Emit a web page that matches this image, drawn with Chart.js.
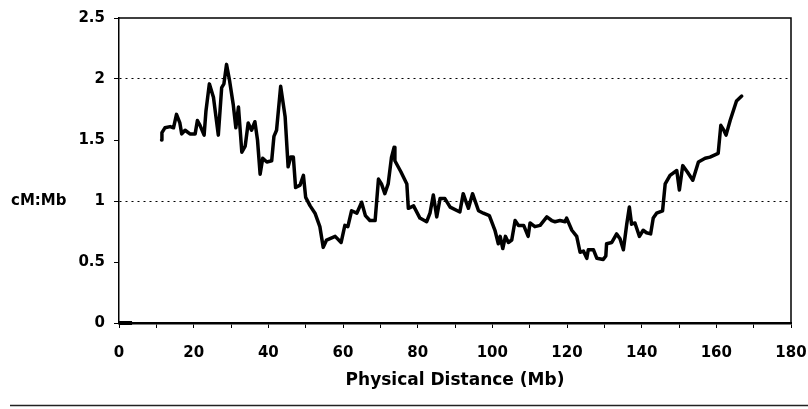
<!DOCTYPE html>
<html>
<head>
<meta charset="utf-8">
<script src="https://cdn.jsdelivr.net/npm/chart.js@4.4.0/dist/chart.umd.min.js"></script>
<style>
  html, body { margin: 0; padding: 0; background: #fff; }
  #wrap { position: relative; width: 808px; height: 409px; }
</style>
</head>
<body>
<div id="wrap"><canvas id="miGrafico" width="808" height="409"></canvas></div>
<script>
// position along the chromosome (Mb) and recombination rate (cM:Mb)
const distance = [
  11.4, 11.5, 12.3, 13.7, 14.6, 15.4, 16.3, 16.8, 17.7, 19.0, 20.4, 21.0, 21.7, 22.8, 23.3,
  24.2, 25.3, 26.6, 27.5, 28.1, 28.8, 29.6, 30.6, 31.3, 32.0, 32.9, 33.8, 34.6, 35.5, 36.4,
  37.1, 37.8, 38.5, 39.6, 40.9, 41.5, 42.2, 43.3, 44.5, 45.3, 46.0, 46.7, 47.3, 48.5, 49.4,
  50.0, 51.2, 52.5, 53.8, 54.7, 55.6, 57.9, 59.5, 60.5, 61.3, 62.3, 63.7, 65.0, 66.0, 67.2,
  68.6, 69.5, 70.3, 71.2, 72.1, 73.0, 73.7, 73.9, 75.5, 77.1, 77.5, 78.9, 80.6, 82.4, 83.3,
  84.2, 85.1, 86.0, 87.3, 88.7, 91.3, 92.2, 93.0, 93.6, 94.7, 96.3, 97.6, 99.2, 100.7, 101.6,
  102.1, 102.8, 103.5, 104.3, 105.2, 106.1, 107.0, 108.4, 109.6, 110.1, 111.4, 112.8, 114.6, 115.9, 116.8,
  118.1, 119.5, 119.9, 121.3, 122.6, 123.5, 124.4, 125.3, 125.7, 127.1, 128.0, 129.7, 130.4, 130.6, 132.0,
  133.3, 134.2, 135.1, 136.0, 136.7, 137.3, 138.2, 139.4, 140.4, 141.3, 142.4, 143.1, 144.0, 145.6, 146.3,
  147.6, 149.4, 150.1, 151.0, 152.2, 153.7, 155.2, 157.0, 158.3, 160.5, 161.2, 162.0, 162.6, 163.7, 165.4,
  166.8
];
const rate = [
  1.50, 1.56, 1.60, 1.61, 1.60, 1.71, 1.64, 1.55, 1.58, 1.55, 1.55, 1.66, 1.62, 1.54, 1.74,
  1.96, 1.85, 1.54, 1.93, 1.96, 2.12, 1.99, 1.79, 1.60, 1.77, 1.40, 1.45, 1.64, 1.58, 1.65,
  1.50, 1.22, 1.35, 1.32, 1.33, 1.53, 1.58, 1.94, 1.69, 1.28, 1.36, 1.36, 1.11, 1.13, 1.21,
  1.03, 0.96, 0.90, 0.79, 0.62, 0.68, 0.71, 0.66, 0.80, 0.79, 0.92, 0.90, 0.99, 0.88, 0.84,
  0.84, 1.18, 1.14, 1.06, 1.14, 1.36, 1.44, 1.33, 1.24, 1.14, 0.94, 0.96, 0.86, 0.83, 0.90,
  1.05, 0.87, 1.02, 1.02, 0.95, 0.91, 1.06, 0.99, 0.94, 1.06, 0.92, 0.90, 0.88, 0.76, 0.65,
  0.71, 0.61, 0.71, 0.66, 0.68, 0.84, 0.80, 0.80, 0.71, 0.82, 0.79, 0.80, 0.87, 0.84, 0.83,
  0.84, 0.83, 0.86, 0.76, 0.71, 0.58, 0.59, 0.53, 0.60, 0.60, 0.53, 0.52, 0.55, 0.65, 0.66,
  0.73, 0.69, 0.60, 0.81, 0.95, 0.81, 0.82, 0.71, 0.76, 0.74, 0.73, 0.86, 0.90, 0.92, 1.14,
  1.21, 1.25, 1.09, 1.29, 1.24, 1.17, 1.32, 1.35, 1.36, 1.39, 1.62, 1.58, 1.54, 1.66, 1.82,
  1.86
];
// the short flat piece drawn at the origin
const startDistance = [0, 3.5];
const startRate = [0, 0];

const xTicks = [0, 10, 20, 30, 40, 50, 60, 70, 80, 90, 100, 110, 120, 130, 140, 150, 160, 170, 180];
const xLabels = [0, 20, 40, 60, 80, 100, 120, 140, 160, 180];
const yTicks = [0, 0.5, 1, 1.5, 2, 2.5];
const yGridValues = [1, 2];

const tickFont = { family: '"DejaVu Sans", sans-serif', size: 15, weight: 'bold' };

const frame = {
  id: 'frame',
  afterDraw(chart) {
    const { ctx, chartArea: a } = chart;
    ctx.save();
    ctx.strokeStyle = '#000';
    ctx.lineWidth = 1.5;
    ctx.beginPath();
    ctx.moveTo(a.left, a.top);
    ctx.lineTo(a.right, a.top);
    ctx.lineTo(a.right, a.bottom);
    ctx.stroke();
    // rule under the figure
    ctx.strokeStyle = '#222';
    ctx.lineWidth = 1.5;
    ctx.beginPath();
    ctx.moveTo(10, 405.5);
    ctx.lineTo(chart.width, 405.5);
    ctx.stroke();
    // y title sits horizontally beside the axis
    ctx.fillStyle = '#000';
    ctx.font = 'bold 15px "DejaVu Sans", sans-serif';
    ctx.textAlign = 'left';
    ctx.textBaseline = 'middle';
    ctx.fillText('cM:Mb', 11, chart.scales.y.getPixelForValue(1));
    ctx.restore();
  }
};

const miCanvas = document.getElementById('miGrafico').getContext('2d');

const myChart = new Chart(miCanvas, {
  type: 'line',
  data: {
    datasets: [
      {
        label: 'cM:Mb',
        data: distance.map((d, i) => ({ x: d, y: rate[i] })),
        borderColor: '#000',
        borderWidth: 3.5,
        borderJoinStyle: 'round',
        borderCapStyle: 'round',
        pointRadius: 0,
        tension: 0,
        fill: false
      },
      {
        label: 'start',
        data: startDistance.map((d, i) => ({ x: d, y: startRate[i] })),
        borderColor: '#000',
        borderWidth: 4,
        pointRadius: 0,
        fill: false,
        clip: false
      }
    ]
  },
  options: {
    responsive: false,
    animation: false,
    devicePixelRatio: 1,
    layout: { padding: { top: 17, right: 17, left: 0, bottom: 0 } },
    plugins: {
      legend: { display: false },
      tooltip: { enabled: false }
    },
    scales: {
      x: {
        type: 'linear',
        min: 0,
        max: 180,
        afterBuildTicks: s => { s.ticks = xTicks.map(v => ({ value: v })); },
        afterFit: s => {
          s.height = 86;
          s.paddingLeft = 0;
          s.paddingRight = 0;
        },
        ticks: {
          autoSkip: false,
          maxRotation: 0,
          padding: 16,
          color: '#000',
          font: tickFont,
          callback: v => xLabels.includes(v) ? String(v) : ''
        },
        grid: {
          color: 'transparent',
          drawTicks: true,
          tickColor: '#000',
          tickLength: 5,
          tickWidth: 1
        },
        border: { color: '#000', width: 2.5 },
        title: {
          display: true,
          text: 'Physical Distance (Mb)',
          color: '#000',
          font: { family: '"DejaVu Sans", sans-serif', size: 17, weight: 'bold' },
          padding: { top: 0, bottom: 18 }
        }
      },
      y: {
        min: 0,
        max: 2.5,
        afterBuildTicks: s => { s.ticks = yTicks.map(v => ({ value: v })); },
        afterFit: s => { s.width = 119; },
        ticks: {
          padding: 9,
          color: '#000',
          font: tickFont,
          callback: v => String(v)
        },
        grid: {
          color: c => yGridValues.includes(c.tick && c.tick.value) ? '#000' : 'transparent',
          lineWidth: 1,
          drawTicks: true,
          tickColor: '#000',
          tickLength: 5
        },
        border: { color: '#000', width: 1.5, dash: [2, 4] }
      }
    }
  },
  plugins: [frame]
});
</script>
</body>
</html>
